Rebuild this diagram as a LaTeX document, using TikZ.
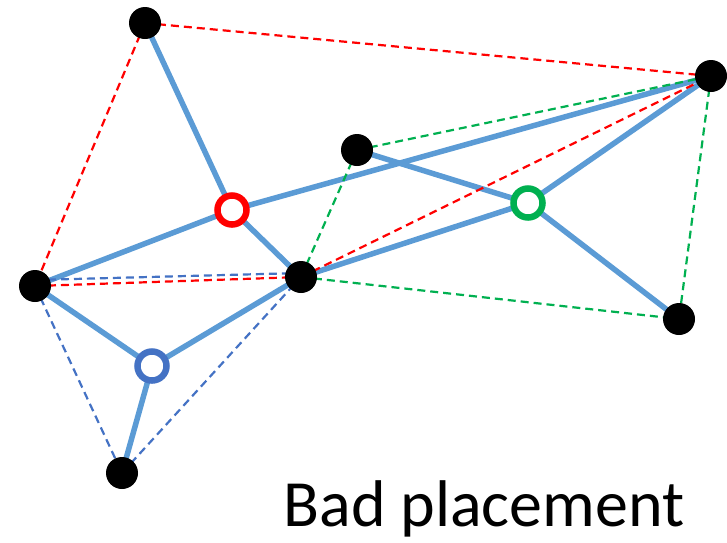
\documentclass[tikz,border=0pt]{standalone}
\usepackage{fontspec}
\setmainfont{Carlito}
\definecolor{edgeblue}{HTML}{5B9BD5}
\definecolor{dblue}{HTML}{4472C4}
\definecolor{dred}{HTML}{FF0000}
\definecolor{dgreen}{HTML}{00B050}
\begin{document}
\begin{tikzpicture}[x=1pt,y=-1pt,
  vert/.style={circle,fill=black,inner sep=0pt,minimum size=32pt},
  hub/.style={circle,draw=#1,fill=white,line width=6.5pt,inner sep=0pt,minimum size=29pt},
  solidedge/.style={edgeblue,line width=5.5pt},
  dedge/.style={#1,line width=2.2pt,dash pattern=on 8pt off 5pt}]
\useasboundingbox (0,0) rectangle (727,542);
\coordinate (A) at (145,23);
\coordinate (B) at (711,76);
\coordinate (C) at (357,150);
\coordinate (D) at (35,286);
\coordinate (E) at (301,277);
\coordinate (F) at (679,319);
\coordinate (G) at (122,473);
\coordinate (R) at (232,210);
\coordinate (Gr) at (528,203);
\coordinate (Bl) at (152,366);
% solid edges
\draw[solidedge] (A) -- (R);
\draw[solidedge] (R) -- (E);
\draw[solidedge] (D) -- (R);
\draw[solidedge] (R) -- (B);
\draw[solidedge] (E) -- (Gr);
\draw[solidedge] (Gr) -- (B);
\draw[solidedge] (C) -- (Gr);
\draw[solidedge] (Gr) -- (F);
\draw[solidedge] (D) -- (Bl);
\draw[solidedge] (Bl) -- (E);
\draw[solidedge] (Bl) -- (G);
% dashed
\draw[dedge=dred] (A) -- (B);
\draw[dedge=dred] (A) -- (D);
\draw[dedge=dred] (D) -- (E);
\draw[dedge=dred] (E) -- (B);
\draw[dedge=dgreen] (C) -- (B);
\draw[dedge=dgreen] (C) -- (E);
\draw[dedge=dgreen] (E) -- (F);
\draw[dedge=dgreen] (B) -- (F);
\draw[dedge=dblue] ([yshift=6pt]D) -- ([yshift=4pt]E);
\draw[dedge=dblue] (D) -- (G);
\draw[dedge=dblue] (G) -- (E);
% nodes
\foreach \n in {A,B,C,D,E,F,G} \node[vert] (n\n) at (\n) {};
\node[hub=dred] (hR) at (R) {};
\node[hub=dgreen] (hG) at (Gr) {};
\node[hub=dblue] (hB) at (Bl) {};
\node[anchor=base,inner sep=0pt,font=\fontsize{66}{72}\selectfont] (lbl) at (484,526) {Bad placement};
\end{tikzpicture}
\end{document}
